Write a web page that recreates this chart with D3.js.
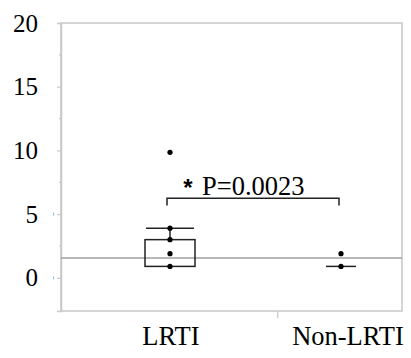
<!DOCTYPE html>
<html><head><meta charset="utf-8">
<script src="https://cdn.jsdelivr.net/npm/d3@7"></script>
<style>body{margin:0;background:#fff}svg{display:block}</style>
</head><body>
<script>
const categories = ["LRTI", "Non-LRTI"];
const lrtiPoints = [9.85, 3.9, 3.0, 1.9, 0.9];
const nonLrtiPoints = [1.9, 0.9];
const lrtiBox = {q1: 0.9, q3: 3.0, whiskerHigh: 3.9};
const nonLrtiMedian = 0.9;
const referenceValue = 1.56;
const yTicks = [0, 5, 10, 15, 20];
const yMinorTicks = [2.5, 7.5, 12.5, 17.5];
const bracketValue = 6.25;
const pLabel = "P=0.0023";

(function () {
const W = 411, H = 358;
const pL = 61, pR = 402, pT = 23, pB = 311;
const svg = d3.select("body").append("svg").attr("width", W).attr("height", H);
const serif = '"Liberation Serif"';

const y = d3.scaleLinear().domain([-2.6, 20]).range([pB, pT]);
const x = d3.scalePoint().domain(categories).range([170, 341]);
const grey = "#c8c8c8";

// frame
svg.append("rect").attr("x", pL).attr("y", pT).attr("width", pR - pL).attr("height", pB - pT)
  .attr("fill", "none").attr("stroke", grey).attr("stroke-width", 1.5);

// y axis
const yAxis = svg.append("g").attr("transform", `translate(${pL},0)`)
  .call(d3.axisLeft(y).tickValues(yTicks).tickSize(4).tickPadding(19).tickFormat(d3.format("d")));
yAxis.attr("font-family", null).attr("font-size", null);
yAxis.select(".domain").attr("stroke", grey).attr("stroke-width", 1.5);
yAxis.selectAll(".tick line").attr("stroke", grey).attr("stroke-width", 1.2);
yAxis.selectAll(".tick text").style("font-family", serif).style("font-size", "25px").attr("fill", "#000");
svg.append("g").selectAll("line").data(yMinorTicks).join("line")
  .attr("x1", pL - 2).attr("x2", pL).attr("y1", d => y(d)).attr("y2", d => y(d))
  .attr("stroke", grey).attr("stroke-width", 1.2);
// faint blue marks near 0 and 5
svg.append("g").selectAll("line").data([0, 5]).join("line")
  .attr("x1", pL - 7.5).attr("x2", pL - 7.5).attr("y1", d => y(d) - 1.5).attr("y2", d => y(d) + 1.5)
  .attr("stroke", "#7fbfef").attr("stroke-width", 1);

// x axis tick
const xTickPos = x("LRTI") + (x("Non-LRTI") - x("LRTI")) * 0.63;
svg.append("line").attr("x1", xTickPos).attr("x2", xTickPos).attr("y1", pB).attr("y2", pB + 7)
  .attr("stroke", grey).attr("stroke-width", 1.2);
svg.append("g").selectAll("text").data(categories).join("text")
  .attr("x", d => x(d) + (d === "Non-LRTI" ? 7 : 1)).attr("y", 345).attr("text-anchor", "middle")
  .style("font-family", serif).style("font-size", "26.5px").attr("fill", "#000").text(d => d);

// reference line
svg.append("line").attr("x1", pL).attr("x2", pR).attr("y1", y(referenceValue)).attr("y2", y(referenceValue))
  .attr("stroke", "#a0a0a0").attr("stroke-width", 1.5);

// LRTI box
const cx = x("LRTI");
svg.append("rect").attr("x", cx - 25).attr("y", y(lrtiBox.q3)).attr("width", 50)
  .attr("height", y(lrtiBox.q1) - y(lrtiBox.q3)).attr("fill", "none").attr("stroke", "#222").attr("stroke-width", 1.5);
svg.append("line").attr("x1", cx).attr("x2", cx).attr("y1", y(lrtiBox.whiskerHigh)).attr("y2", y(lrtiBox.q3))
  .attr("stroke", "#222").attr("stroke-width", 1.5);
svg.append("line").attr("x1", cx - 24).attr("x2", cx + 24).attr("y1", y(lrtiBox.whiskerHigh)).attr("y2", y(lrtiBox.whiskerHigh))
  .attr("stroke", "#222").attr("stroke-width", 1.5);

// Non-LRTI median line
const nx = x("Non-LRTI");
svg.append("line").attr("x1", nx - 15).attr("x2", nx + 15).attr("y1", y(nonLrtiMedian)).attr("y2", y(nonLrtiMedian))
  .attr("stroke", "#222").attr("stroke-width", 1.5);

// points
svg.append("g").selectAll("circle").data(lrtiPoints).join("circle")
  .attr("cx", cx).attr("cy", d => y(d)).attr("r", 2.6).attr("fill", "#000");
svg.append("g").selectAll("circle").data(nonLrtiPoints).join("circle")
  .attr("cx", nx).attr("cy", d => y(d)).attr("r", 2.6).attr("fill", "#000");

// significance bracket
const by = y(bracketValue), bEnd = y(5.67);
svg.append("path").attr("d", `M${cx - 3},${bEnd}V${by}H${nx - 2}V${bEnd}`)
  .attr("fill", "none").attr("stroke", "#222").attr("stroke-width", 1.5);
svg.append("text").attr("x", cx + 18).attr("y", 196).attr("text-anchor", "middle")
  .style("font-family", '"Liberation Sans"').style("font-weight", "bold").style("font-size", "24px").text("*");
svg.append("text").attr("x", cx + 32).attr("y", 195)
  .style("font-family", serif).style("font-size", "26.5px").attr("fill", "#000").text(pLabel);
})();
</script>
</body></html>
